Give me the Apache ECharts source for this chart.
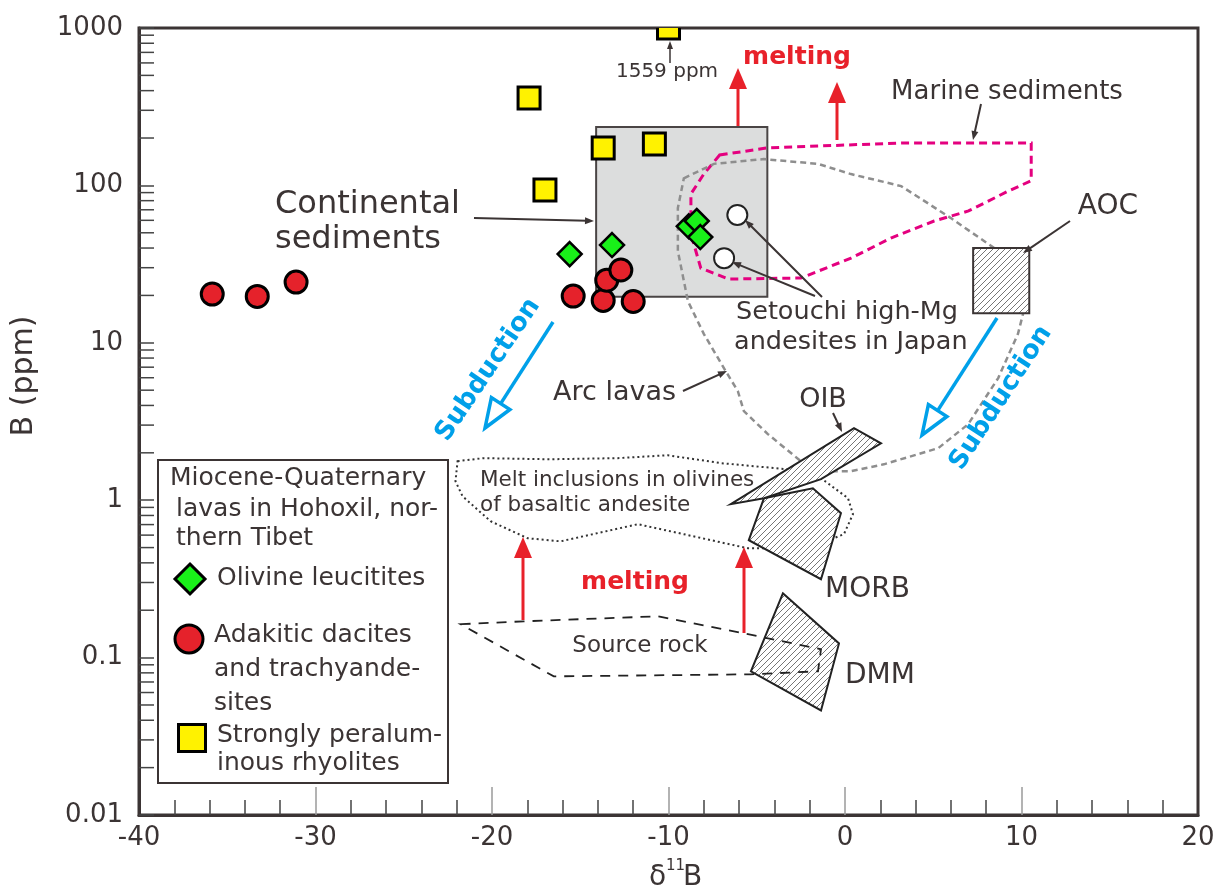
<!DOCTYPE html>
<html>
<head>
<meta charset="utf-8">
<script src="https://cdn.jsdelivr.net/npm/echarts@6/dist/echarts.min.js"></script>
<style>
  html, body { margin: 0; padding: 0; background: #fff; }
  #chart { width: 1221px; height: 896px; }
</style>
</head>
<body>
<div id="chart"></div>
<script>
// ---- axes ----
const X_MIN = -40, X_MAX = 20, X_STEP = 10;
const xInnerTicks = [-30, -20, -10, 0, 10];
const Y_MIN = 0.01, Y_MAX = 1000;
const yTickLabels = ['0.01', '0.1', '1', '10', '100', '1000'];
const yMinorTicks = [
  0.02, 0.03, 0.04, 0.05, 0.06, 0.07, 0.08, 0.09,
  0.2, 0.3, 0.4, 0.5, 0.6, 0.7, 0.8, 0.9,
  2, 3, 4, 5, 6, 7, 8, 9,
  20, 30, 40, 50, 60, 70, 80, 90,
  200, 300, 400, 500, 600, 700, 800, 900
];

// ---- Miocene-Quaternary lavas in Hohoxil: [δ11B, B ppm] ----
const olivineLeucitites = [[-15.6, 36.6], [-13.2, 41.8], [-8.85, 55], [-8.4, 59.4], [-8.2, 47]];
const adakiticDacites = [[-35.85, 20.4], [-33.3, 19.7], [-31.1, 24.3], [-15.4, 19.8], [-13.7, 18.6],
                         [-13.5, 25], [-12.7, 29], [-12.0, 18.3]];
const peraluminousRhyolites = [[-17.9, 359], [-17.0, 93.5], [-13.7, 173], [-10.8, 183], [-10.0, 1559]];
const setouchiAndesites = [[-6.1, 64.9], [-6.85, 34.5]];

// ---- reservoir fields: outline vertices [δ11B, B ppm] ----
const continentalSediments = [[-14.1, 19.6], [-4.4, 19.6], [-4.4, 235], [-14.1, 235]];
const marineSediments = [[-7.1, 156], [-4.4, 173], [3.2, 186], [10.55, 186], [10.55, 107], [9.25, 92],
  [7.0, 68.8], [5.05, 59.4], [2.6, 46.3], [0.34, 34.5], [-2.5, 25.8], [-6.6, 25.4], [-8.17, 29.8],
  [-8.73, 49.1], [-8.73, 88.2], [-8.0, 118]];
const arcLavas = [[-9.13, 111], [-7.43, 137], [-4.6, 147], [-1.53, 137], [0.34, 118], [3.18, 99],
  [6.0, 62], [8.45, 40], [9.8, 29.8], [10.27, 18.4], [9.8, 11.4], [8.68, 5.97], [6.98, 3.04],
  [5.28, 2.14], [2.2, 1.69], [0.34, 1.53], [-1.08, 1.53], [-2.5, 1.77], [-4.37, 2.63], [-5.73, 3.68],
  [-6.07, 4.93], [-6.86, 6.9], [-8.0, 11.4], [-8.9, 18.4], [-9.47, 38.3], [-9.47, 71.8]];
const aoc = [[7.26, 15.4], [10.44, 15.4], [10.44, 40], [7.26, 40]];
const meltInclusions = [[-21.95, 1.77], [-20.48, 1.85], [-16.68, 1.82], [-12.88, 1.85], [-10.04, 1.93],
  [-7.03, 1.72], [-3.23, 1.57], [-1.36, 1.38], [0.17, 1.03], [0.45, 0.815], [-0.06, 0.608],
  [-1.36, 0.533], [-3.23, 0.495], [-5.5, 0.495], [-9.13, 0.608], [-11.74, 0.704], [-16.11, 0.548],
  [-17.98, 0.573], [-20.08, 0.735], [-21.67, 1.06], [-22.07, 1.32]];
const oib = [[-6.47, 0.944], [0.51, 2.87], [2.04, 2.3], [-1.36, 1.36], [-4.59, 1.03]];
const morb = [[-5.45, 0.557], [-4.59, 1.03], [-1.82, 1.19], [-0.23, 0.827], [-1.36, 0.315]];
const sourceRock = [[-21.78, 0.163], [-18.21, 0.17], [-10.61, 0.183], [-5.5, 0.141], [-1.36, 0.113],
  [-1.53, 0.0818], [-5.33, 0.0783], [-16.5, 0.076]];
const dmm = [[-3.52, 0.256], [-0.34, 0.123], [-1.36, 0.0462], [-5.33, 0.0818]];

// ---- styles ----
const INK = '#3b3434';
const FONT = 'DejaVu Sans';
const RED = '#e8212a';
const BLUE = '#00a0e9';

function hatchPattern() {
  const c = document.createElement('canvas');
  c.width = 6; c.height = 6;
  const g = c.getContext('2d');
  g.fillStyle = '#fff';
  g.fillRect(0, 0, 6, 6);
  g.strokeStyle = '#666';
  g.lineWidth = 0.9;
  g.beginPath();
  g.moveTo(0, 6); g.lineTo(6, 0);
  g.moveTo(-1, 1); g.lineTo(1, -1);
  g.moveTo(5, 7); g.lineTo(7, 5);
  g.stroke();
  return { image: c, repeat: 'repeat' };
}
const HATCH = hatchPattern();

function field(name, pts, style, z) {
  return {
    type: 'custom', name, data: pts, z, silent: true,
    renderItem(params, api) {
      if (params.dataIndex !== 0) return null;
      return { type: 'polygon', shape: { points: pts.map(p => api.coord(p)) }, style: Object.assign({}, style) };
    }
  };
}

// ---- annotation helpers (pixel layout) ----
function arrow(x1, y1, x2, y2, o) {
  const dx = x2 - x1, dy = y2 - y1, L = Math.hypot(dx, dy);
  const ux = dx / L, uy = dy / L, px = -uy, py = ux;
  const bx = x2 - ux * o.hl, by = y2 - uy * o.hl;
  const head = [[x2, y2], [bx + px * o.hw / 2, by + py * o.hw / 2], [bx - px * o.hw / 2, by - py * o.hw / 2]];
  const endx = o.open ? bx : bx + ux * 2, endy = o.open ? by : by + uy * 2;
  return [
    { type: 'line', z: 100, shape: { x1, y1, x2: endx, y2: endy }, style: { stroke: o.color, lineWidth: o.lw } },
    { type: 'polygon', z: 100, shape: { points: head },
      style: o.open ? { fill: '#fff', stroke: o.color, lineWidth: o.lw, lineJoin: 'miter' } : { fill: o.color } }
  ];
}
function label(text, x, y, o) {
  o = o || {};
  return {
    type: 'text', z: 101, x, y, rotation: o.rot || 0,
    style: {
      text, fill: o.color || INK, fontSize: o.size || 26, fontFamily: FONT,
      fontWeight: o.bold ? 'bold' : 'normal', align: o.align || 'left', verticalAlign: 'middle'
    }
  };
}
const blackArrow = { color: INK, lw: 2, hl: 9, hw: 7 };
const redArrow = { color: RED, lw: 3, hl: 21, hw: 18 };
const blueArrow = { color: BLUE, lw: 3.5, hl: 29, hw: 22, open: true };

const graphics = [].concat(
  // annotation text
  label('1559 ppm', 667, 72, { size: 20, align: 'center' }),
  label('melting', 797, 57, { size: 25, bold: true, color: RED, align: 'center' }),
  label('Marine sediments', 1007, 92, { size: 26, align: 'center' }),
  label('AOC', 1108, 207, { size: 28, align: 'center' }),
  label('Continental', 275, 205, { size: 32 }),
  label('sediments', 275, 240, { size: 32 }),
  label('Setouchi high-Mg', 736, 312, { size: 25.5 }),
  label('andesites in Japan', 734, 342, { size: 25.5 }),
  label('Arc lavas', 553, 393, { size: 27 }),
  label('OIB', 823, 400, { size: 27, align: 'center' }),
  label('Melt inclusions in olivines', 480, 480, { size: 21.5 }),
  label('of basaltic andesite', 480, 505, { size: 21.5 }),
  label('MORB', 825, 590, { size: 28 }),
  label('DMM', 845, 676, { size: 28 }),
  label('Source rock', 640, 646, { size: 23, align: 'center' }),
  label('melting', 635, 582, { size: 25, bold: true, color: RED, align: 'center' }),
  label('Subduction', 488, 370, { size: 26, bold: true, color: BLUE, align: 'center', rot: 56 * Math.PI / 180 }),
  label('Subduction', 1001, 398, { size: 26, bold: true, color: BLUE, align: 'center', rot: 57 * Math.PI / 180 }),
  // pointers
  arrow(670, 63, 670, 41, { color: INK, lw: 1.5, hl: 8, hw: 6 }),
  arrow(981, 104, 973, 140, blackArrow),
  arrow(1070, 221, 1023, 253, blackArrow),
  arrow(474, 218, 594, 221, blackArrow),
  arrow(822, 297, 745, 220, blackArrow),
  arrow(815, 296, 732, 262, blackArrow),
  arrow(683, 391, 727, 371, blackArrow),
  arrow(833, 413, 842, 432, blackArrow),
  // melting and subduction arrows
  arrow(738, 126, 738, 68, redArrow),
  arrow(837, 140, 837, 82, redArrow),
  arrow(523, 620, 523, 537, redArrow),
  arrow(744, 633, 744, 547, redArrow),
  arrow(553, 322, 485, 428, blueArrow),
  arrow(997, 318, 922, 435, blueArrow),
  // axis titles
  label('B (ppm)', 24, 376, { size: 30, align: 'center', rot: Math.PI / 2 }),
  label('δ', 649, 878, { size: 28 }),
  label('11', 666, 866, { size: 15 }),
  label('B', 683, 878, { size: 28 }),
  // legend box
  [{ type: 'rect', z: 99, shape: { x: 158, y: 460, width: 290, height: 323 },
     style: { fill: '#fff', stroke: INK, lineWidth: 2 } }],
  label('Miocene-Quaternary', 170, 478, { size: 25 }),
  label('lavas in Hohoxil, nor-', 176, 509, { size: 25 }),
  label('thern Tibet', 176, 538, { size: 25 }),
  [{ type: 'polygon', z: 101, shape: { points: [[190, 564], [205, 579], [190, 594], [175, 579]] },
     style: { fill: '#19f019', stroke: '#000', lineWidth: 3 } }],
  label('Olivine leucitites', 217, 578, { size: 25 }),
  [{ type: 'circle', z: 101, shape: { cx: 189, cy: 639, r: 14 },
     style: { fill: '#e5222b', stroke: '#000', lineWidth: 3 } }],
  label('Adakitic dacites', 214, 635, { size: 25 }),
  label('and trachyande-', 214, 669, { size: 25 }),
  label('sites', 214, 703, { size: 25 }),
  [{ type: 'rect', z: 101, shape: { x: 178.5, y: 724.5, width: 27, height: 27 },
     style: { fill: '#fff200', stroke: '#000', lineWidth: 3 } }],
  label('Strongly peralum-', 217, 735, { size: 25 }),
  label('inous rhyolites', 217, 763, { size: 25 })
);

const chart = echarts.init(document.getElementById('chart'));
chart.setOption({
  animation: false,
  backgroundColor: '#fff',
  grid: { left: 139, right: 23, top: 28, bottom: 81, show: true, borderColor: INK, borderWidth: 3 },
  xAxis: {
    type: 'value', min: X_MIN, max: X_MAX, interval: X_STEP,
    axisLine: { show: true, onZero: false, lineStyle: { color: INK, width: 3 } },
    axisTick: { show: true, inside: true, length: 28, customValues: xInnerTicks,
                lineStyle: { color: '#9a9a9a', width: 1.5 } },
    minorTick: { show: true, splitNumber: 5, length: 15, lineStyle: { color: '#444', width: 1.5 } },
    splitLine: { show: false },
    axisLabel: { fontSize: 26, color: INK, fontFamily: FONT, margin: 10 }
  },
  yAxis: {
    type: 'log', logBase: 10, min: Y_MIN, max: Y_MAX,
    axisLine: { show: true, onZero: false, lineStyle: { color: INK, width: 3 } },
    axisTick: { show: true, inside: true, length: 15, lineStyle: { color: '#444', width: 1.5 } },
    splitLine: { show: false },
    axisLabel: {
      fontSize: 26, color: INK, fontFamily: FONT, margin: 16, padding: [0, 0, 10, 0],
      formatter: v => yTickLabels.find(t => Math.abs(Math.log10(+t) - Math.log10(v)) < 1e-6) || ''
    }
  },
  graphic: graphics,
  series: [
    {
      type: 'custom', name: 'minor ticks', silent: true, z: 3,
      data: yMinorTicks.map(v => [X_MIN, v]),
      renderItem(params, api) {
        const p = api.coord([X_MIN, api.value(1)]);
        return { type: 'line', shape: { x1: p[0], y1: p[1], x2: p[0] + 15, y2: p[1] },
                 style: { stroke: '#444', lineWidth: 1.5 } };
      }
    },
    field('Continental sediments', continentalSediments, { fill: '#dcdddd', stroke: '#4a4545', lineWidth: 2 }, 1),
    field('Marine sediments', marineSediments, { fill: 'none', stroke: '#e4007f', lineWidth: 3, lineDash: [8, 5] }, 2),
    field('Arc lavas', arcLavas, { fill: 'none', stroke: '#8e8e8e', lineWidth: 2.5, lineDash: [6, 4] }, 2),
    field('AOC', aoc, { fill: HATCH, stroke: INK, lineWidth: 2 }, 2),
    field('Melt inclusions', meltInclusions, { fill: 'none', stroke: '#333', lineWidth: 2, lineDash: [2, 3] }, 2),
    field('MORB', morb, { fill: HATCH, stroke: '#222', lineWidth: 2 }, 2),
    field('OIB', oib, { fill: HATCH, stroke: '#222', lineWidth: 2 }, 3),
    field('DMM', dmm, { fill: HATCH, stroke: '#222', lineWidth: 2 }, 2),
    field('Source rock', sourceRock, { fill: 'none', stroke: '#222', lineWidth: 1.8, lineDash: [10, 8] }, 3),
    {
      type: 'scatter', name: 'Setouchi high-Mg andesites', data: setouchiAndesites, z: 5,
      symbol: 'circle', symbolSize: 20, itemStyle: { color: '#fff', borderColor: '#222', borderWidth: 2, opacity: 1 }
    },
    {
      // off-scale values sit on the top edge and are cut by the plot frame
      type: 'custom', name: 'Strongly peraluminous rhyolites', z: 6, clip: true,
      data: peraluminousRhyolites.map(([x, y]) => [x, Math.min(y, Y_MAX)]),
      renderItem(params, api) {
        const p = api.coord([api.value(0), api.value(1)]);
        return { type: 'rect', shape: { x: p[0] - 11, y: p[1] - 11, width: 22, height: 22 },
                 style: { fill: '#fff200', stroke: '#000', lineWidth: 3 } };
      }
    },
    {
      type: 'scatter', name: 'Adakitic dacites and trachyandesites', data: adakiticDacites, z: 6,
      symbol: 'circle', symbolSize: 22, itemStyle: { color: '#e5222b', borderColor: '#000', borderWidth: 3, opacity: 1 }
    },
    {
      type: 'scatter', name: 'Olivine leucitites', data: olivineLeucitites, z: 7,
      symbol: 'diamond', symbolSize: [24, 24], itemStyle: { color: '#19f019', borderColor: '#000', borderWidth: 2.5, opacity: 1 }
    }
  ]
});
</script>
</body>
</html>
